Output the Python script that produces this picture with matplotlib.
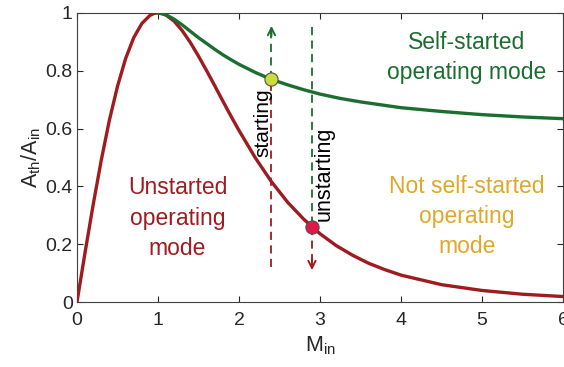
import matplotlib
matplotlib.use('Agg')
import matplotlib.pyplot as plt

# ---------------------------------------------------------------- data --
# unstarted boundary (isentropic contraction limit)
m_red = [0.0, 0.1, 0.2, 0.3, 0.4, 0.5, 0.6, 0.7, 0.8, 0.9, 0.95, 1.0, 1.05,
         1.1, 1.2, 1.3, 1.4, 1.5, 1.6, 1.7, 1.8, 1.9, 2.0,
         2.2, 2.4, 2.6, 2.8, 3.0, 3.2, 3.4, 3.6, 3.8, 4.0,
         4.5, 5.0, 5.5, 6.0]
a_red = [0.0, 0.172, 0.337, 0.491, 0.629, 0.746, 0.842, 0.914, 0.963, 0.991, 0.998, 1.0, 0.998,
         0.992, 0.971, 0.938, 0.897, 0.850, 0.800, 0.748, 0.695, 0.643, 0.593,
         0.499, 0.416, 0.345, 0.286, 0.236, 0.195, 0.162, 0.134, 0.112, 0.093,
         0.060, 0.040, 0.027, 0.019]

# self-start boundary
m_green = [1.0, 1.1, 1.2, 1.3, 1.4, 1.5, 1.6, 1.7, 1.8, 1.9, 2.0,
           2.2, 2.4, 2.6, 2.8, 3.0, 3.25, 3.5, 4.0, 4.5, 5.0, 5.5, 6.0]
a_green = [1.0, 0.993, 0.978, 0.958, 0.936, 0.914, 0.894, 0.874, 0.855, 0.838, 0.822,
           0.794, 0.770, 0.751, 0.734, 0.719, 0.704, 0.692, 0.672, 0.659, 0.648, 0.640, 0.634]

# operating points
m_start, a_start = 2.4, 0.77
m_unstart, a_unstart = 2.9, 0.26

RED    = '#9e1b1f'
GREEN  = '#1c6e30'
YELLOW = '#e0a82a'

plt.rcParams['font.family'] = ['Liberation Sans', 'DejaVu Sans']

fig = plt.figure(figsize=(5.64, 3.67), dpi=100)
ax = fig.add_axes([0.1365, 0.177, 0.862, 0.788])

ax.plot(m_red, a_red, color=RED, linewidth=2.4, zorder=3, solid_joinstyle='round')
ax.plot(m_green, a_green, color=GREEN, linewidth=2.4, zorder=3, solid_joinstyle='round')

# dashed transition lines
dash = dict(linestyle=(0, (4.5, 3)), linewidth=1.3, zorder=2)
ax.plot([m_start, m_start], [0.12, a_start], color=RED, **dash)
ax.plot([m_start, m_start], [a_start, 0.94], color=GREEN, **dash)
ax.plot([m_unstart, m_unstart], [0.95, a_unstart], color=GREEN, **dash)
ax.plot([m_unstart, m_unstart], [a_unstart, 0.13], color=RED, **dash)

ax.annotate('', xy=(m_start, 0.955), xytext=(m_start, 0.92),
            arrowprops=dict(arrowstyle='->', color=GREEN, lw=1.4,
                            mutation_scale=13, shrinkA=0, shrinkB=0))
ax.annotate('', xy=(m_unstart, 0.11), xytext=(m_unstart, 0.15),
            arrowprops=dict(arrowstyle='->', color=RED, lw=1.4,
                            mutation_scale=13, shrinkA=0, shrinkB=0))

ax.plot(m_start, a_start, 'o', markersize=9.5, markerfacecolor='#c9dc3a',
        markeredgecolor='#505050', markeredgewidth=0.8, zorder=5)
ax.plot(m_unstart, a_unstart, 'o', markersize=9.5, markerfacecolor='#e3174a',
        markeredgecolor='#505050', markeredgewidth=0.8, zorder=5)

ax.text(2.29, 0.62, 'starting', rotation=90, ha='center', va='center', fontsize=15)
ax.text(3.05, 0.445, 'unstarting', rotation=90, ha='center', va='center', fontsize=15.5)

ax.text(4.81, 0.845, 'Self-started\noperating mode', color=GREEN, fontsize=16.5,
        ha='center', va='center', linespacing=1.4)
ax.text(1.24, 0.29, 'Unstarted\noperating\nmode', color=RED, fontsize=16.5,
        ha='center', va='center', linespacing=1.4)
ax.text(4.81, 0.295, 'Not self-started\noperating\nmode', color=YELLOW, fontsize=16.5,
        ha='center', va='center', linespacing=1.4)

ax.set_xlim(0, 6)
ax.set_ylim(0, 1)
ax.set_xticks([0, 1, 2, 3, 4, 5, 6])
ax.set_yticks([0, 0.2, 0.4, 0.6, 0.8, 1])
ax.set_yticklabels(['0', '0.2', '0.4', '0.6', '0.8', '1'])
ax.tick_params(direction='in', top=True, right=True, length=4, width=0.8,
               labelsize=14, colors='#262626', pad=3)
ax.tick_params(axis='x', pad=7)
for s in ax.spines.values():
    s.set_color('#404040')
    s.set_linewidth(0.8)

ax.set_xlabel('M$_{\\mathregular{in}}$', fontsize=15.5, labelpad=4, color='#262626')
ax.set_ylabel('A$_{\\mathregular{th}}$/A$_{\\mathregular{in}}$', fontsize=15.5,
              labelpad=2, color='#262626')

fig.savefig('out.png', dpi=100)
